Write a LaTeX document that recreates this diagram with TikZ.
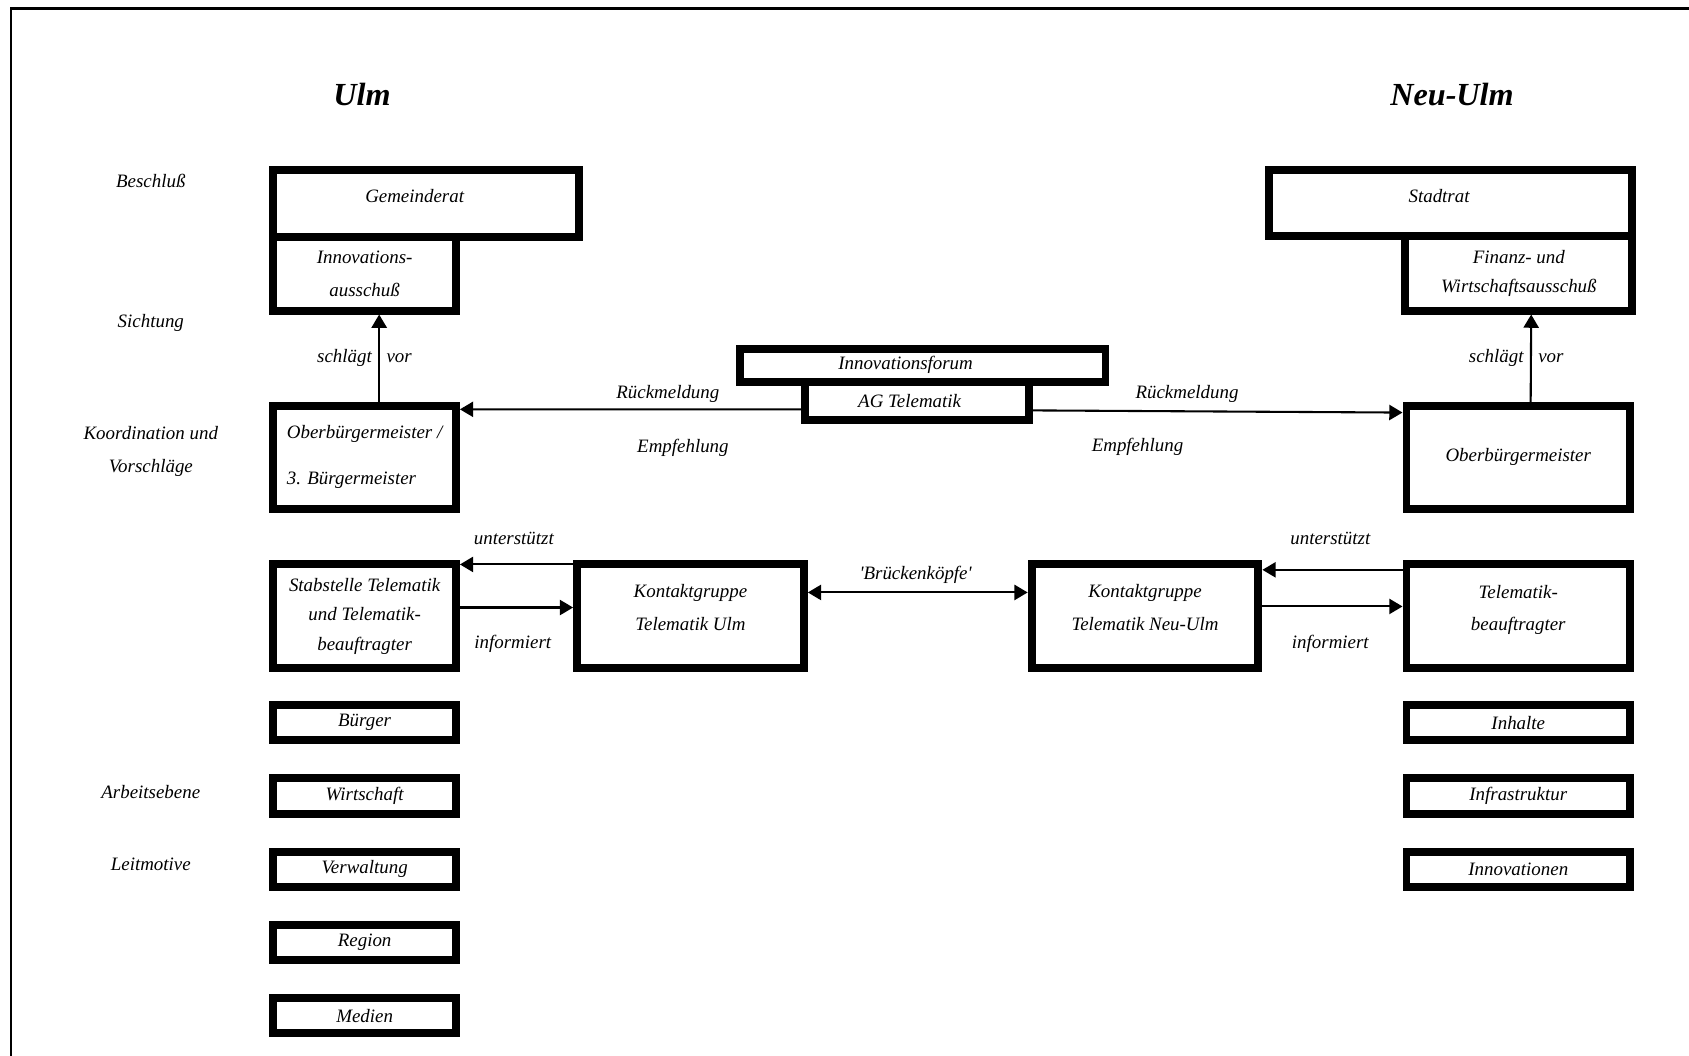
\documentclass[tikz,border=0pt]{standalone}
\usepackage{fontspec}
\setmainfont{Liberation Serif}
\usetikzlibrary{shapes,arrows.meta}
\tikzset{
block/.style={rectangle, draw, line width=4.2pt, text centered, align=center, font=\itshape, inner sep=2pt},
small/.style={block, minimum width=3.392cm, minimum height=0.652cm},
smallr/.style={block, minimum width=4.152cm, minimum height=0.652cm},
line/.style={draw, line width=1.1pt, -{Triangle[length=7pt,width=8pt]}},
lbl/.style={font=\itshape, align=center},
town/.style={font=\fontsize{17}{20}\selectfont\bfseries\itshape}
}

\begin{document}
\begin{tikzpicture}[x=0.02cm, y=-0.02cm, node distance=1.36cm]
    \useasboundingbox (0,0) rectangle (1568,980);
    % Frame
    \draw [line width=1.3pt] (1600,8) -- (10,8) -- (10,1000);
    % Titles and levels
    \node [town] (ulm) at (336,88) {Ulm};
    \node [town] (neuulm) at (1348,88) {Neu-Ulm};
    \node [lbl] (beschluss) at (140,168) {Beschluß};
    \node [lbl] (sichtung) at (140,300) {Sichtung};
    \node [lbl] (koord) at (140,419) {Koordination und\\[5.6pt]Vorschläge};
    \node [lbl] (arbeit) at (140,735) {Arbeitsebene};
    \node [lbl] (leit) at (140,802) {Leitmotive};
    % Place nodes: Ulm
    \node [block, minimum width=3.392cm, minimum height=1.36cm] (innov) at (338.5,254.3) {Innovations-\\[5.6pt]ausschuß};
    \node [block, minimum width=5.672cm, minimum height=1.252cm, text depth=8pt] (gemeinderat) at (395.5,189) {Gemeinderat\hspace*{12pt}};
    \node [block, minimum width=3.392cm, minimum height=1.912cm, align=left] (obulm) at (338.5,424.5) {Oberbürgermeister /\\[12.4pt]3. Bürgermeister};
    \node [block, minimum width=3.392cm, minimum height=1.932cm] (stab) at (338.5,572) {Stabstelle Telematik\\[3.6pt]und Telematik-\\[3.6pt]beauftragter};
    \node [block, minimum width=4.212cm, minimum height=1.932cm, text depth=9pt] (kulm) at (641,572) {Kontaktgruppe\\[5.6pt]Telematik Ulm};
    \node [small] (buerger) at (338.5,671) {Bürger};
    \node [small, below of=buerger] (wirtschaft) {Wirtschaft};
    \node [small, below of=wirtschaft] (verwaltung) {Verwaltung};
    \node [small, below of=verwaltung] (region) {Region};
    \node [small, below of=region] (medien) {Medien};
    % Place nodes: middle
    \node [block, minimum width=6.792cm, minimum height=0.612cm] (forum) at (856.5,339) {Innovationsforum\hspace*{18pt}};
    \node [block, minimum width=4.152cm, minimum height=0.72cm] (agt) at (851.5,372.3) {AG Telematik\hspace*{8pt}};
    % Place nodes: Neu-Ulm
    \node [block, minimum width=4.212cm, minimum height=1.38cm] (finanz) at (1410,253.8) {Finanz- und\\[3.3pt]Wirtschaftsausschuß};
    \node [block, minimum width=6.752cm, minimum height=1.232cm, text depth=8pt] (stadtrat) at (1346.5,188.5) {Stadtrat\hspace*{12pt}};
    \node [block, minimum width=4.152cm, minimum height=1.912cm] (obnu) at (1409.5,424.5) {Oberbürgermeister};
    \node [block, minimum width=4.212cm, minimum height=1.932cm, text depth=9pt] (kneu) at (1063,572) {Kontaktgruppe\\[5.6pt]Telematik Neu-Ulm};
    \node [block, minimum width=4.152cm, minimum height=1.932cm, text depth=9pt] (tbeauf) at (1409.5,572) {Telematik-\\[5pt]beauftragter};
    \node [smallr] (inhalte) at (1409.5,671) {Inhalte};
    \node [smallr, below of=inhalte] (infra) {Infrastruktur};
    \node [smallr, below of=infra] (innovationen) {Innovationen};
    % Draw edges
    \path [line] ([xshift=0.27cm]obulm.north) -- node [lbl, left] (sv1) {schlägt} node [lbl, right] (sv2) {vor} ([xshift=0.27cm]innov.south);
    \path [line] ([xshift=0.23cm]obnu.north) -- node [lbl, left] (sv3) {schlägt} node [lbl, right] (sv4) {vor} ([xshift=0.23cm]finanz.south);
    \path [line] ([yshift=-0.154cm]agt.west) -- ([yshift=0.89cm]obulm.east);
    \path [line] ([yshift=-0.174cm]agt.east) -- ([yshift=0.83cm]obnu.west);
    \path [line] ([yshift=0.96cm]kulm.west) -- ([yshift=0.96cm]stab.east);
    \path [line] ([yshift=0.16cm]stab.east) -- ([yshift=0.16cm]kulm.west);
    \path [line, {Triangle[length=7pt,width=8pt]}-{Triangle[length=7pt,width=8pt]}] ([yshift=0.44cm]kulm.east) -- ([yshift=0.44cm]kneu.west);
    \path [line] ([yshift=0.86cm]tbeauf.west) -- ([yshift=0.86cm]kneu.east);
    \path [line] ([yshift=0.18cm]kneu.east) -- ([yshift=0.18cm]tbeauf.west);
    % Edge labels
    \node [lbl] (rueck1) at (620,366) {Rückmeldung};
    \node [lbl] (empf1) at (634,416) {Empfehlung};
    \node [lbl] (rueck2) at (1102,366) {Rückmeldung};
    \node [lbl] (empf2) at (1056,415) {Empfehlung};
    \node [lbl] (unter1) at (477,500) {unterstützt};
    \node [lbl] (info1) at (476,598) {informiert};
    \node [lbl] (bruecke) at (850,534) {\textquotesingle Brückenköpfe\textquotesingle};
    \node [lbl] (unter2) at (1235,500) {unterstützt};
    \node [lbl] (info2) at (1235,598) {informiert};
\end{tikzpicture}
\end{document}
